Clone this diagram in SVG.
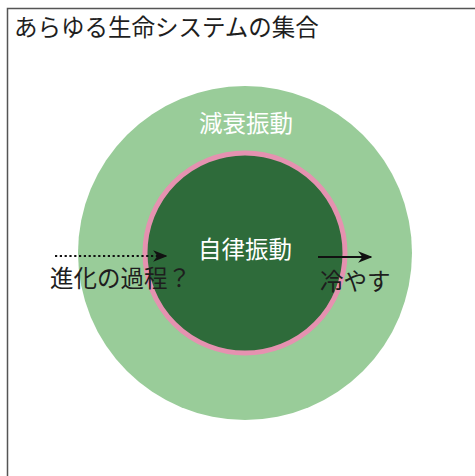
<svg xmlns="http://www.w3.org/2000/svg" width="475" height="476" viewBox="0 0 475 476">
<defs>
<style>
text{font-family:"Noto Sans CJK JP","Noto Sans",sans-serif;font-size:23.5px;}
.dark{fill:#1e1e1e;}
.light{fill:#ffffff;text-anchor:middle;}
.conn{stroke:#111;stroke-width:2.2;fill:none;}
</style>
<marker id="ah" viewBox="0 0 10 10" refX="9" refY="5" markerWidth="6.5" markerHeight="6.5" orient="auto" markerUnits="strokeWidth">
<path d="M0,1 L10,5 L0,9 L3,5 Z" fill="#111"/>
</marker>
</defs>
<rect x="0" y="0" width="475" height="476" fill="#fff"/>
<g id="universe">
<rect x="7.5" y="8.5" width="480" height="480" fill="none" stroke="#555" stroke-width="1.5"/>
<text class="dark" x="14" y="36">あらゆる生命システムの集合</text>
</g>
<g id="damped">
<circle cx="245" cy="253" r="167" fill="#99cc99"/>
<text class="light" x="246" y="132">減衰振動</text>
</g>
<g id="self">
<circle cx="245" cy="253" r="100" fill="#2e6b3a" stroke="#e592b0" stroke-width="5"/>
<text class="light" x="245" y="258">自律振動</text>
</g>
<g id="connectors">
<line class="conn" x1="55" y1="256" x2="166" y2="256" stroke-dasharray="2.2,2.6" marker-end="url(#ah)"/>
<line class="conn" x1="318" y1="257" x2="371" y2="257" marker-end="url(#ah)"/>
</g>
<g id="labels">
<text class="dark" x="50" y="287">進化の過程？</text>
<text class="dark" x="320" y="290">冷やす</text>
</g>
</svg>
